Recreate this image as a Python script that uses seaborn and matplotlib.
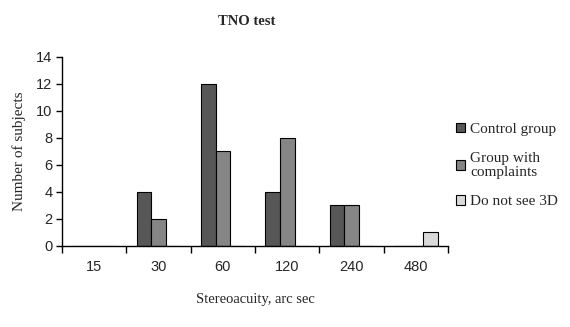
import matplotlib
matplotlib.use("Agg")
import matplotlib.pyplot as plt
import seaborn as sns
import pandas as pd
from matplotlib.patches import Patch

categories = ["15", "30", "60", "120", "240", "480"]
control = [0, 4, 12, 4, 3, 0]
complaints = [0, 2, 7, 8, 3, 0]
no3d = [0, 0, 0, 0, 0, 1]
series_names = ["Control group", "Group with\ncomplaints", "Do not see 3D"]
colors = ["#575757", "#858585", "#d9d9d9"]

rows = []
for name, vals in zip(series_names, [control, complaints, no3d]):
    for c, v in zip(categories, vals):
        rows.append({"cat": c, "series": name, "value": v})
df = pd.DataFrame(rows)

sns.set_style("ticks")
fig = plt.figure(figsize=(5.7, 3.27), dpi=100)
ax = fig.add_axes([0.109, 0.248, 0.677, 0.578])

sns.barplot(data=df, x="cat", y="value", hue="series", order=categories,
            hue_order=series_names, palette=colors, width=0.68,
            edgecolor="black", linewidth=0.8, ax=ax, legend=False)

ax.set_xlim(-0.5, 5.5)
ax.set_ylim(0, 14)
ax.set_yticks(range(0, 15, 2))
sns.despine(ax=ax)
for s in ["left", "bottom"]:
    ax.spines[s].set_linewidth(1.0)
    ax.spines[s].set_color("black")

sans = "Liberation Sans"
serif = "Liberation Serif"
ax.set_xticks(range(len(categories)))
ax.set_xticklabels(categories, fontfamily=sans, fontsize=10.5)
ax.set_xticks([i - 0.5 for i in range(len(categories) + 1)], minor=True)
ax.tick_params(axis="x", which="major", length=0, pad=10)
ax.tick_params(axis="x", which="minor", length=5, width=1, color="black", direction="out")
ax.tick_params(axis="y", length=4, width=1, color="black", pad=3)
for lab in ax.get_yticklabels():
    lab.set_fontfamily(sans)
    lab.set_fontsize(10.5)

ax.set_xlabel("Stereoacuity, arc sec", fontfamily=serif, fontsize=10.5, labelpad=14)
ax.set_ylabel("Number of subjects", fontfamily=serif, fontsize=11, labelpad=7)
fig.text(0.432, 0.933, "TNO test", fontfamily=serif, fontsize=10.5, fontweight="bold",
         ha="center", va="center")

handles = [Patch(facecolor=c, edgecolor="black", linewidth=0.8) for c in colors]
leg = fig.legend(handles, series_names, loc="upper left", bbox_to_anchor=(0.787, 0.648),
                 frameon=False, prop={"family": serif, "size": 11},
                 handlelength=0.6, handleheight=0.6, handletextpad=0.3,
                 labelspacing=1.05, borderpad=0)
for t in leg.get_texts():
    t.set_linespacing(1.1)

fig.savefig("out.png", dpi=100)
